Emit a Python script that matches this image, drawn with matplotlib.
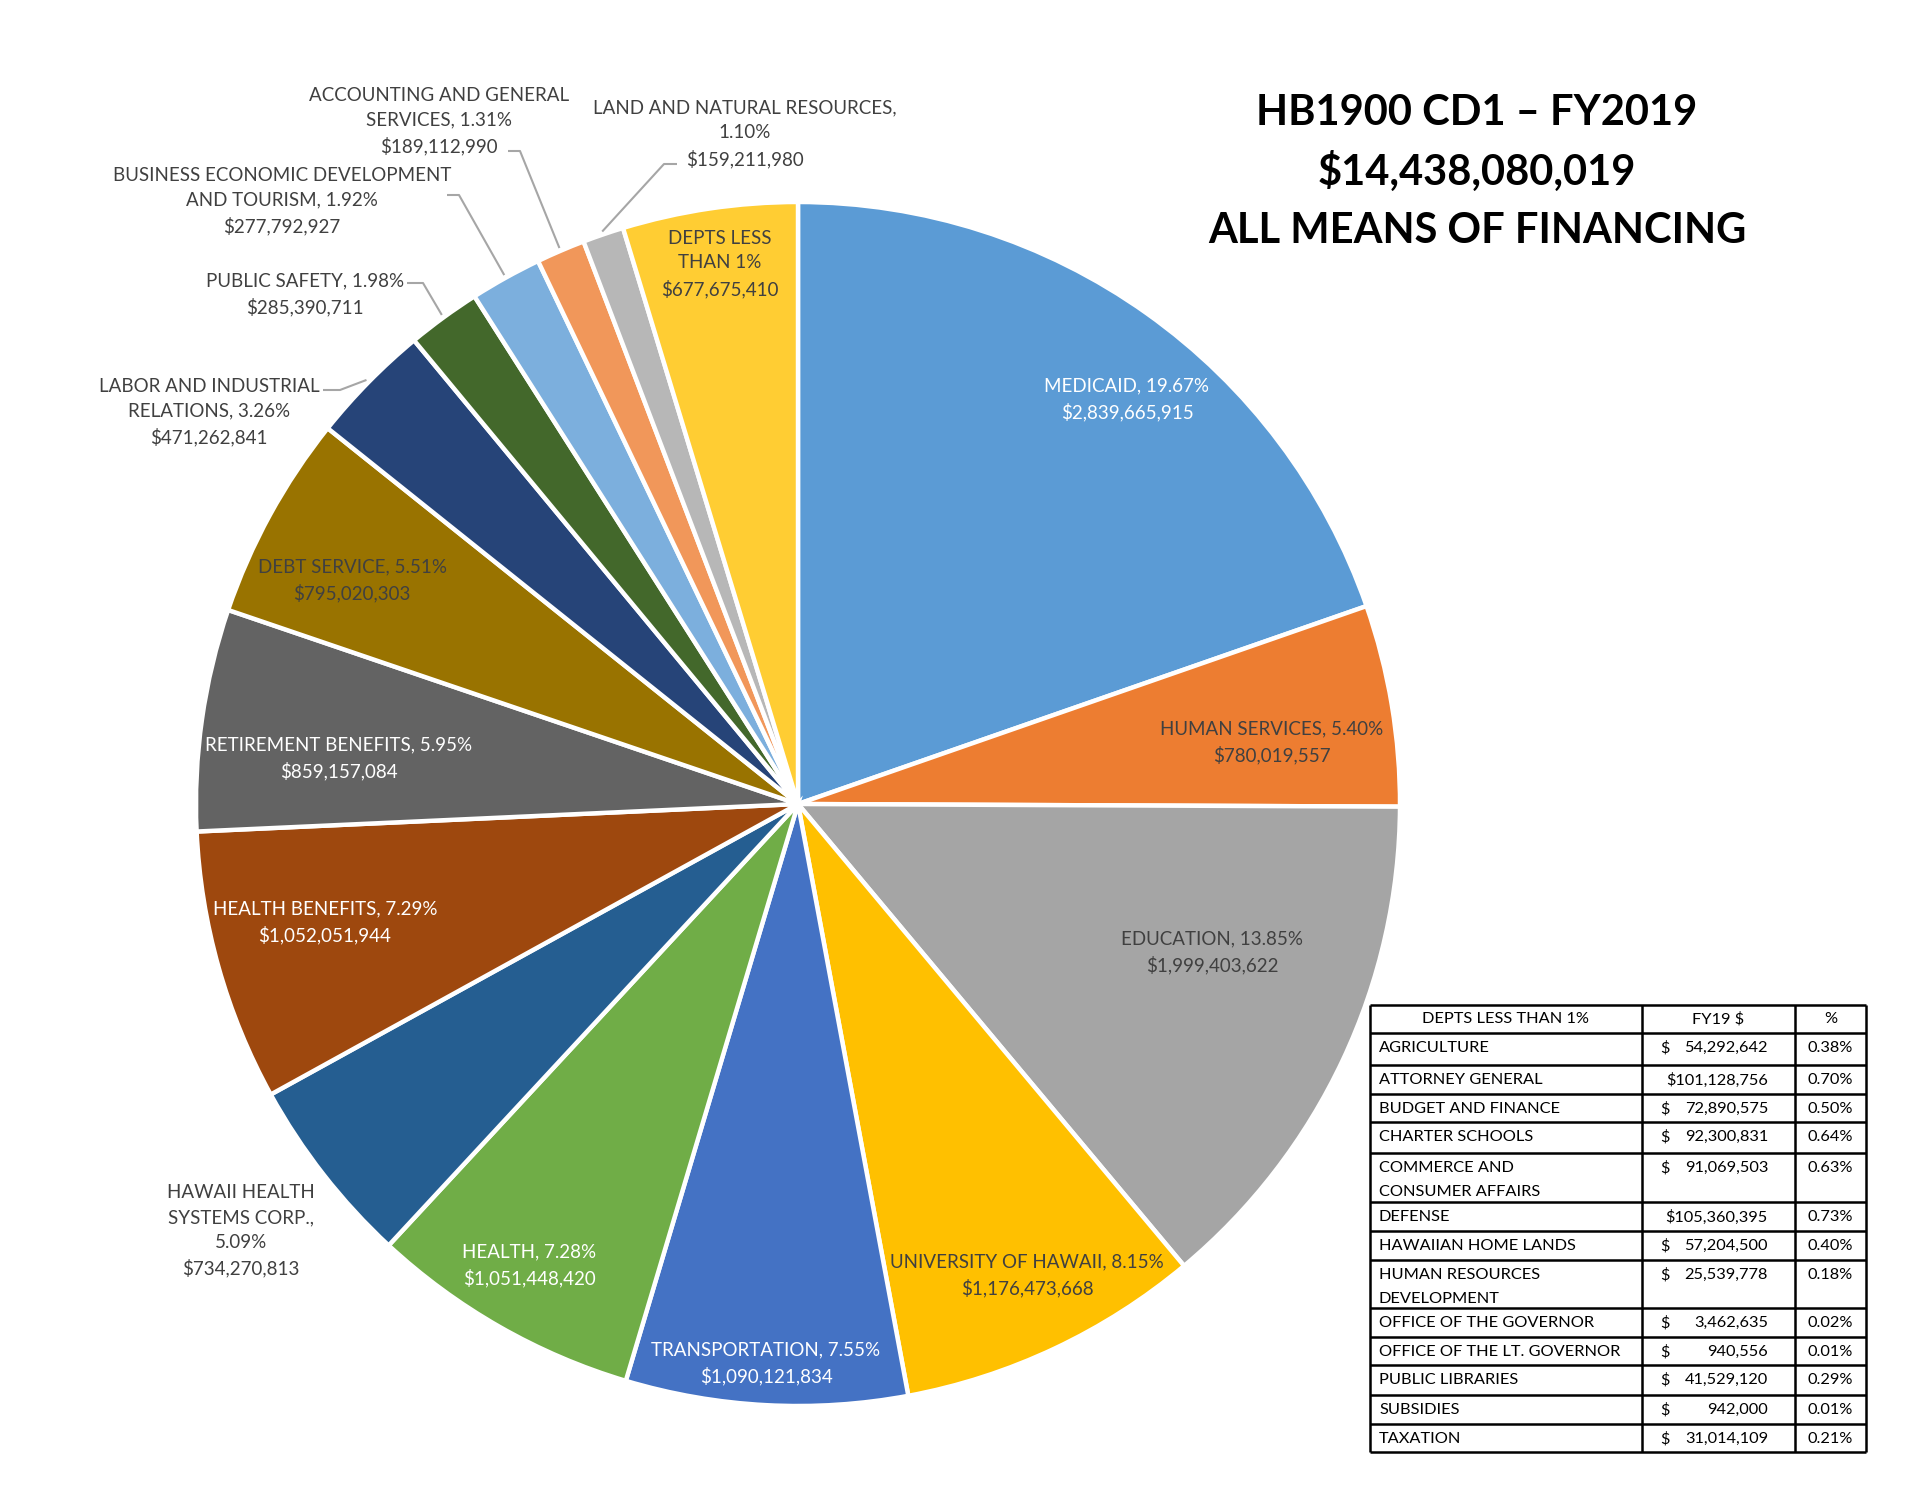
import math
import matplotlib
matplotlib.use("Agg")
import matplotlib.pyplot as plt

plt.rcParams['font.family'] = ['Lato', 'DejaVu Sans']

# ---------------- data ----------------
dept_names = ["MEDICAID", "HUMAN SERVICES", "EDUCATION", "UNIVERSITY OF HAWAII",
              "TRANSPORTATION", "HEALTH", "HAWAII HEALTH\nSYSTEMS CORP.",
              "HEALTH BENEFITS", "RETIREMENT BENEFITS", "DEBT SERVICE",
              "LABOR AND INDUSTRIAL\nRELATIONS", "PUBLIC SAFETY",
              "BUSINESS ECONOMIC DEVELOPMENT\nAND TOURISM",
              "ACCOUNTING AND GENERAL\nSERVICES", "LAND AND NATURAL RESOURCES",
              "DEPTS LESS\nTHAN 1%"]
dept_amounts = [2839665915, 780019557, 1999403622, 1176473668, 1090121834,
                1051448420, 734270813, 1052051944, 859157084, 795020303,
                471262841, 285390711, 277792927, 189112990, 159211980, 677675410]
dept_pcts = [19.67, 5.40, 13.85, 8.15, 7.55, 7.28, 5.09, 7.29, 5.95, 5.51,
             3.26, 1.98, 1.92, 1.31, 1.10, None]

small_names = ["AGRICULTURE", "ATTORNEY GENERAL", "BUDGET AND FINANCE",
               "CHARTER SCHOOLS", "COMMERCE AND\nCONSUMER AFFAIRS", "DEFENSE",
               "HAWAIIAN HOME LANDS", "HUMAN RESOURCES\nDEVELOPMENT",
               "OFFICE OF THE GOVERNOR", "OFFICE OF THE LT. GOVERNOR",
               "PUBLIC LIBRARIES", "SUBSIDIES", "TAXATION"]
small_amounts = [54292642, 101128756, 72890575, 92300831, 91069503, 105360395,
                 57204500, 25539778, 3462635, 940556, 41529120, 942000, 31014109]
small_pcts = [0.38, 0.70, 0.50, 0.64, 0.63, 0.73, 0.40, 0.18, 0.02, 0.01,
              0.29, 0.01, 0.21]

# ---------------- style / layout ----------------
colors = ["#5B9BD5", "#ED7D31", "#A5A5A5", "#FFC000", "#4472C4", "#70AD47",
          "#255E91", "#9E480E", "#636363", "#997300", "#264478", "#43682B",
          "#7CAFDD", "#F1975A", "#B7B7B7", "#FFCD33"]
dark = "#404040"
txt_colors = ["white", dark, dark, dark, "white", "white", dark, "white",
              "white", dark, dark, dark, dark, dark, dark, dark]
pct_newline = [False] * 16
pct_newline[6] = True
pct_newline[14] = True
# label centres in pixel coords (y down)
label_pos = [(1127, 399), (1272, 742), (1212, 952), (1027, 1275), (766, 1363),
             (529, 1265), (241, 1231), (325, 922), (339, 758), (352, 580),
             (209, 412), (305, 294), (282, 201), (439, 121), (745, 134),
             (720, 264)]
# leader lines for outside labels: (x_text, x_elbow, y)
leaders = {10: (323, 340, 390), 11: (407, 423, 283), 12: (447, 459, 195),
           13: (508, 520, 151), 14: (677, 664, 164)}

W, H = 1925, 1488
cx, cy, R = 798, 804, 602

fig = plt.figure(figsize=(W / 100, H / 100), dpi=100)
ax = fig.add_axes([0, 0, 1, 1])

wedges, _ = ax.pie(dept_amounts, colors=colors, startangle=-90, counterclock=True,
                   center=(cx, cy), radius=R,
                   wedgeprops=dict(edgecolor="white", linewidth=3.2))
ax.set_xlim(0, W)
ax.set_ylim(H, 0)
ax.set_aspect("equal")
ax.axis("off")

for i, w in enumerate(wedges):
    if dept_pcts[i] is None:
        label = f"{dept_names[i]}\n${dept_amounts[i]:,}"
    else:
        sep = ",\n" if pct_newline[i] else ", "
        label = f"{dept_names[i]}{sep}{dept_pcts[i]:.2f}%\n${dept_amounts[i]:,}"
    x, y = label_pos[i]
    ax.text(x, y, label, ha="center", va="center", fontsize=13.5,
            color=txt_colors[i], linespacing=1.55)
    if i in leaders:
        x0, x1, ly = leaders[i]
        th = math.radians((w.theta1 + w.theta2) / 2)
        px, py = cx + R * 1.005 * math.cos(th), cy + R * 1.005 * math.sin(th)
        ax.plot([x0, x1, px], [ly, ly, py], color="#A6A6A6", lw=1.5,
                solid_capstyle="butt")

# ---------------- title ----------------
total = sum(dept_amounts)
title_lines = ["HB1900 CD1 \u2013 FY2019", f"${total:,}", "ALL MEANS OF FINANCING"]
for t, ty in zip(title_lines, [113, 171, 231]):
    ax.text(1477, ty, t, ha="center", va="center", fontsize=30,
            fontweight="bold", color="black")

# ---------------- table ----------------
col_x = [1370, 1642, 1795, 1866]
row_y = [1005, 1033, 1065, 1094, 1122, 1153, 1202, 1231, 1260, 1308, 1337,
         1365, 1395, 1424, 1452]
ax.hlines(row_y, col_x[0], col_x[-1], color="black", lw=1.8)
ax.vlines(col_x, row_y[0], row_y[-1], color="black", lw=1.8)

hy = (row_y[0] + row_y[1]) / 2
ax.text((col_x[0] + col_x[1]) / 2, hy, "DEPTS LESS THAN 1%", ha="center",
        va="center", fontsize=11.8, color="black")
ax.text((col_x[1] + col_x[2]) / 2, hy, "FY19 $", ha="center", va="center",
        fontsize=11.8, color="black")
ax.text((col_x[2] + col_x[3]) / 2, hy, "%", ha="center", va="center",
        fontsize=11.8, color="black")

for k, name in enumerate(small_names):
    top = row_y[k + 1] + 8
    ax.text(col_x[0] + 9, top, name, ha="left", va="top", fontsize=11.8,
            color="black", linespacing=1.9)
    if small_amounts[k] >= 100_000_000:
        amt = f"${small_amounts[k]:,}"
    else:
        amt = f"{small_amounts[k]:,}"
        ax.text(col_x[1] + 18, top, "$", ha="left", va="top", fontsize=11.8,
                color="black")
    ax.text(col_x[2] - 27, top, amt, ha="right", va="top",
            fontsize=11.8, color="black")
    ax.text((col_x[2] + col_x[3]) / 2, top, f"{small_pcts[k]:.2f}%", ha="center",
            va="top", fontsize=11.8, color="black")

fig.savefig("out.png", dpi=100)
